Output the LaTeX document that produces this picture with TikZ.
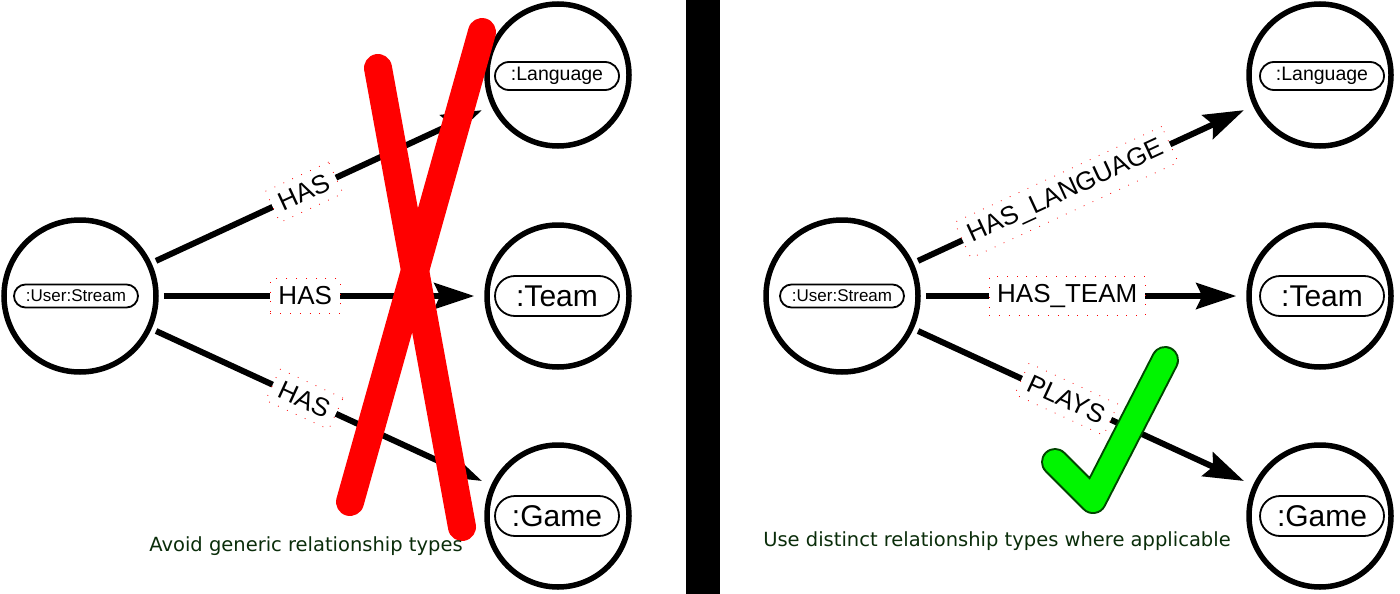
\documentclass[tikz,border=0pt]{standalone}
\usepackage{fontspec}
\setmainfont{Liberation Sans}
\newfontfamily\capfont{DejaVu Sans}
\usetikzlibrary{arrows.meta}
\definecolor{capgreen}{RGB}{10,45,10}
\definecolor{xred}{RGB}{255,0,0}
\definecolor{okgreen}{RGB}{0,245,0}
\definecolor{okedge}{RGB}{0,70,0}
\begin{document}
\begin{tikzpicture}[x=1pt,y=-1pt,
  ent/.style={circle,draw,line width=5.5pt,inner sep=0pt,minimum size=#1},
  pill/.style={draw,line width=1.8pt,rounded corners=#1,minimum width=124pt,inner xsep=4pt,inner ysep=0pt,minimum height=2*#1},
  rel/.style={line width=6pt,-{Stealth[length=40pt,width=26pt,inset=6pt]},shorten <=5pt,shorten >=10pt},
  lab/.style={fill=white,font=\fontsize{26}{30}\selectfont,inner sep=8pt,draw=red,line width=0.8pt,dash pattern=on 0.8pt off 9pt,sloped,pos=0.45},
  xstroke/.style={line width=28pt,xred,line cap=round},
  caption/.style={font=\capfont\fontsize{19.5}{23}\selectfont,text=capgreen},
  small/.style={font=\fontsize{17}{19}\selectfont},
  mid/.style={font=\fontsize{19.5}{22}\selectfont},
  big/.style={font=\fontsize{30}{33}\selectfont}
]
\useasboundingbox (0,0) rectangle (1400,594);
\fill[white] (0,0) rectangle (1400,594);

% divider
\fill[black] (686,0) rectangle (720,594);

% ---------- left panel ----------
\node[ent=152pt] (ls) at (80,296) {};
\node[ent=142pt] (ll) at (558,75) {};
\node[ent=142pt] (lt) at (558,296) {};
\node[ent=142pt] (lg) at (558,516) {};
\node[pill=11.5pt,small] (lsp) at (76,296) {:User:Stream};
\node[pill=14pt,mid] (llp) at (557,76) {:Language};
\node[pill=20pt,big] (ltp) at (557,296) {:Team};
\node[pill=20pt,big] (lgp) at (557,516) {:Game};

\draw[rel] (ls) -- node[lab]{HAS} (ll);
\draw[rel] (ls) -- node[lab]{HAS} (lt);
\draw[rel] (ls) -- node[lab]{HAS} (lg);

\draw[xstroke] (378,68) -- (462,527);
\draw[xstroke] (482,32) -- (350,502);

\node[caption] (c1) at (306,546) {Avoid generic relationship types};

% ---------- right panel ----------
\node[ent=152pt] (rs) at (842,296) {};
\node[ent=142pt] (rl) at (1320,75) {};
\node[ent=142pt] (rt) at (1320,296) {};
\node[ent=142pt] (rg) at (1320,516) {};
\node[pill=11.5pt,small] (rsp) at (842,296) {:User:Stream};
\node[pill=14pt,mid] (rlp) at (1322,76) {:Language};
\node[pill=20pt,big] (rtp) at (1322,296) {:Team};
\node[pill=20pt,big] (rgp) at (1322,516) {:Game};

\draw[rel] (rs) -- node[lab]{HAS\_LANGUAGE} (rl);
\draw[rel] (rs) -- node[lab]{HAS\_TEAM} (rt);
\draw[rel] (rs) -- node[lab]{PLAYS} (rg);

\draw[line width=28pt,okedge,line cap=round,line join=round] (1055,462) -- (1093,500) -- (1165,360);
\draw[line width=24pt,okgreen,line cap=round,line join=round] (1055,462) -- (1093,500) -- (1165,360);

\node[caption] (c2) at (997,541) {Use distinct relationship types where applicable};
\end{tikzpicture}
\end{document}
